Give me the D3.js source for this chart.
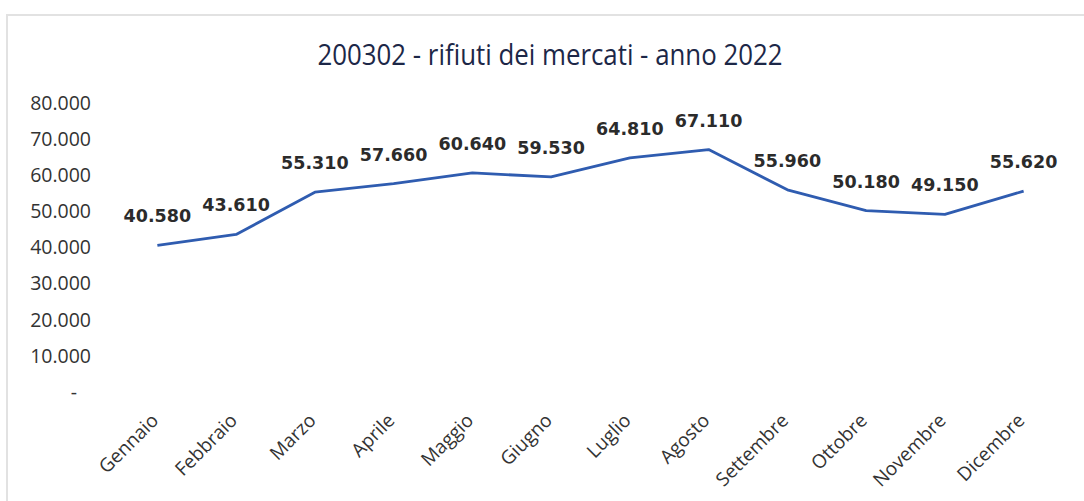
<!DOCTYPE html>
<html lang="it">
<head>
<meta charset="UTF-8">
<title>200302 - rifiuti dei mercati - anno 2022</title>
<script src="https://cdn.jsdelivr.net/npm/d3@7"></script>
<style>
  body { margin: 0; background: #fff; }
</style>
</head>
<body>
<svg id="main" width="1084" height="501"></svg>
<script>
// dati
const mesi = ["Gennaio", "Febbraio", "Marzo", "Aprile", "Maggio", "Giugno",
              "Luglio", "Agosto", "Settembre", "Ottobre", "Novembre", "Dicembre"];
const valori = [40580, 43610, 55310, 57660, 60640, 59530,
                64810, 67110, 55960, 50180, 49150, 55620];
const yTicks = [0, 10000, 20000, 30000, 40000, 50000, 60000, 70000, 80000];
const titolo = "200302 - rifiuti dei mercati - anno 2022";

let svg = d3.select('svg#main');
let W = 1084, H = 501;
let plot = {left: 118, right: 1063, top: 103, bottom: 392};

// bordo del grafico (leggero, come nella scansione)
svg.append('path')
    .attr('d', 'M7,' + H + ' V15 H' + W)
    .style('fill', 'none')
    .style('stroke', '#e2e2e2')
    .style('stroke-width', 2);

// scale
let x = d3.scalePoint().domain(mesi).range([plot.left, plot.right]).padding(0.5);
let y = d3.scaleLinear().domain([0, 80000]).range([plot.bottom, plot.top]);

// formato numeri all'italiana: 40.580
let fmt = function (v) {
    if (v === 0) return '-';
    return d3.format(',')(v).replace(/,/g, '.');
};

// titolo
svg.append('text')
    .attr('x', 550)
    .attr('y', 65)
    .attr('text-anchor', 'middle')
    .attr('textLength', 465)
    .attr('lengthAdjust', 'spacingAndGlyphs')
    .style('font-family', '"Liberation Sans Narrow", "Open Sans", sans-serif')
    .style('font-size', '29px')
    .style('fill', '#1c2747')
    .text(titolo);

// asse y (solo etichette)
let yAxis = svg.append('g')
    .attr('transform', 'translate(' + 91 + ',0)')
    .call(d3.axisLeft(y).tickValues(yTicks).tickFormat(fmt).tickSize(0).tickPadding(0));
yAxis.select('.domain').remove();
yAxis.selectAll('text')
    .style('font-family', '"Open Sans", sans-serif')
    .style('font-size', '19.5px')
    .style('fill', '#333');
yAxis.selectAll('text').filter(function (d) { return d === 0; })
    .attr('x', -14);

// asse x (etichette ruotate)
let xAxis = svg.append('g')
    .attr('transform', 'translate(-3,' + 417 + ')')
    .call(d3.axisBottom(x).tickSize(0).tickPadding(0));
xAxis.select('.domain').remove();
xAxis.selectAll('text')
    .attr('text-anchor', 'end')
    .attr('dy', '0.35em')
    .attr('transform', 'rotate(-45)')
    .style('font-family', '"Open Sans", sans-serif')
    .style('font-size', '19px')
    .style('fill', '#333');

// linea
let line = d3.line()
    .x(function (d, i) { return x(mesi[i]); })
    .y(function (d) { return y(d); });

svg.append('path')
    .datum(valori)
    .attr('d', line)
    .style('fill', 'none')
    .style('stroke', '#2f5cb0')
    .style('stroke-width', 2.8)
    .style('stroke-linejoin', 'round');

// etichette dati
svg.append('g').selectAll('text')
    .data(valori)
    .join('text')
    .attr('x', function (d, i) { return x(mesi[i]); })
    .attr('y', function (d) { return y(d) - 23; })
    .attr('text-anchor', 'middle')
    .style('font-family', '"DejaVu Sans", Verdana, sans-serif')
    .style('font-weight', 'bold')
    .style('font-size', '17.5px')
    .style('fill', '#2b2b2b')
    .text(fmt);
</script>
</body>
</html>
